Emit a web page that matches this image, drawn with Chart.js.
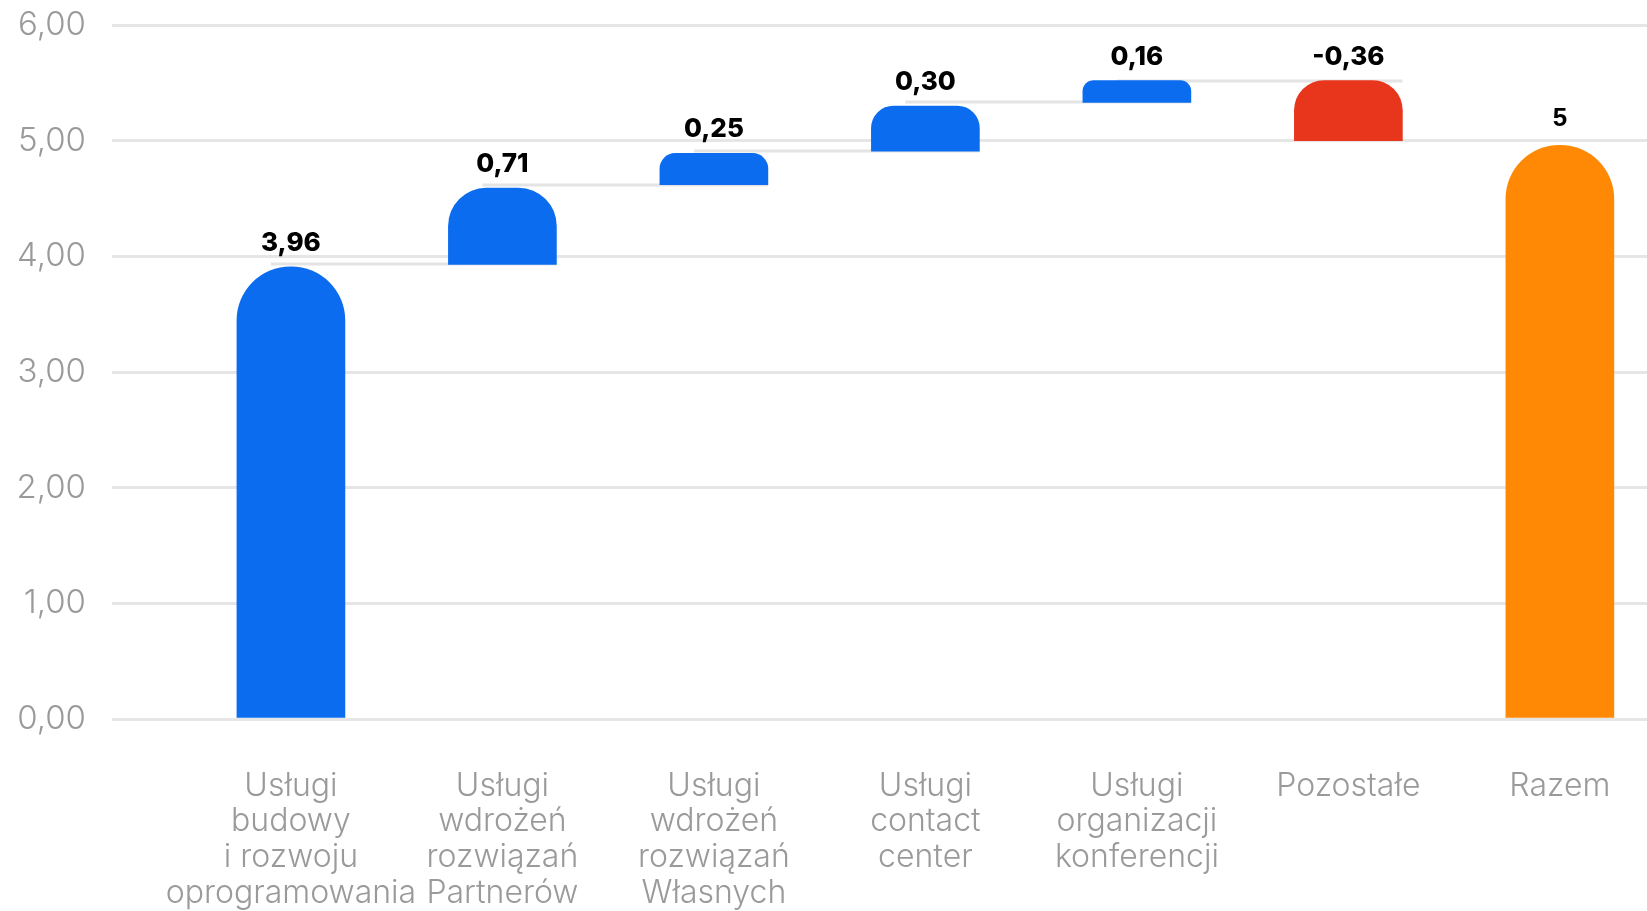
<!DOCTYPE html>
<html>
<head>
<meta charset="utf-8">
<script src="https://cdn.jsdelivr.net/npm/chart.js@4"></script>
<style>
  html, body { margin: 0; padding: 0; background: #fff; }
  #wrap { width: 1647px; height: 911px; }
</style>
</head>
<body>
<div id="wrap"><canvas id="chart"></canvas></div>
<script>
// categories (multi-line labels)
const categories = [
  ['Usługi', 'budowy', 'i rozwoju', 'oprogramowania'],
  ['Usługi', 'wdrożeń', 'rozwiązań', 'Partnerów'],
  ['Usługi', 'wdrożeń', 'rozwiązań', 'Własnych'],
  ['Usługi', 'contact', 'center'],
  ['Usługi', 'organizacji', 'konferencji'],
  ['Pozostałe'],
  ['Razem']
];
// printed values above the bars
const values = [3.96, 0.71, 0.25, 0.30, 0.16, -0.36, 5];
// bar extents as drawn in the picture
const barLow = [0, 3.93, 4.62, 4.91, 5.33, 5.00, 0];
const barHigh = [3.91, 4.59, 4.89, 5.30, 5.52, 5.52, 4.96];
const yTicks = [0, 1, 2, 3, 4, 5, 6];

const BLUE = '#0b6cf0';
const RED = '#e8361c';
const ORANGE = '#ff8804';
const GRID = '#e6e6e6';
const LABEL = '#9a9a9a';

function fmt(v) {
    if (Number.isInteger(v)) return String(v);
    return v.toFixed(2).replace('.', ',');
}

// gray step lines between bars
const connectors = {
    id: 'connectors',
    beforeDatasetsDraw(chart) {
        const meta = chart.getDatasetMeta(0);
        const y = chart.scales.y;
        const ctx = chart.ctx;
        ctx.save();
        ctx.strokeStyle = '#e4e4e4';
        ctx.lineWidth = 3;
        for (let i = 1; i < values.length - 1; i++) {
            const level = values[i] >= 0 ? barLow[i] : barHigh[i];
            const prev = meta.data[i - 1];
            const cur = meta.data[i];
            const py = Math.round(y.getPixelForValue(level));
            ctx.beginPath();
            ctx.moveTo(prev.x - 20, py);
            ctx.lineTo(cur.x + cur.width / 2, py);
            ctx.stroke();
        }
        ctx.restore();
    }
};

// value labels above bars
const valueLabels = {
    id: 'valueLabels',
    afterDatasetsDraw(chart) {
        const meta = chart.getDatasetMeta(0);
        const ctx = chart.ctx;
        ctx.save();
        ctx.fillStyle = '#000';
        ctx.textAlign = 'center';
        ctx.textBaseline = 'alphabetic';
        meta.data.forEach((bar, i) => {
            const last = i === values.length - 1;
            ctx.font = last ? 'bold 26px "Liberation Sans"' : '800 26px Inter';
            ctx.fillText(fmt(values[i]), bar.x, bar.y - (last ? 19 : 16));
        });
        ctx.restore();
    }
};

const colors = values.map((v, i) => i === values.length - 1 ? ORANGE : (v < 0 ? RED : BLUE));

new Chart(document.getElementById('chart'), {
    type: 'bar',
    data: {
        datasets: [{
            data: categories.map((c, i) => ({ x: i, y: [barLow[i], barHigh[i]] })),
            backgroundColor: colors,
            borderWidth: 0,
            borderSkipped: false,
            borderRadius: { topLeft: 54, topRight: 54, bottomLeft: 0, bottomRight: 0 },
            barThickness: 108
        }]
    },
    options: {
        responsive: true,
        maintainAspectRatio: false,
        animation: false,
        layout: { padding: { left: 14, right: 0, top: 25, bottom: 0 } },
        plugins: {
            legend: { display: false },
            tooltip: { enabled: false }
        },
        scales: {
            x: {
                type: 'linear',
                offset: false,
                min: -0.846,
                max: 6.412,
                afterBuildTicks: s => { s.ticks = categories.map((c, i) => ({ value: i })); },
                afterFit: s => {
                    s.height = 192;
                    s.paddingLeft = 0;
                    s.paddingRight = 0;
                },
                grid: { display: false, drawTicks: false },
                border: { display: false },
                ticks: {
                    autoSkip: false,
                    maxRotation: 0,
                    padding: 49,
                    color: LABEL,
                    font: { family: 'Inter', weight: 300, size: 32, lineHeight: 1.12 },
                    callback: v => categories[v]
                }
            },
            y: {
                min: 0,
                max: 6,
                afterBuildTicks: s => { s.ticks = yTicks.map(v => ({ value: v })); },
                afterFit: s => {
                    s.width = 98;
                    s.paddingTop = 0;
                    s.paddingBottom = 0;
                },
                grid: { color: GRID, lineWidth: 3, drawTicks: false },
                border: { display: false },
                ticks: {
                    padding: 26,
                    color: LABEL,
                    font: { family: 'Inter', weight: 300, size: 33 },
                    callback: v => v.toFixed(2).replace('.', ',')
                }
            }
        }
    },
    plugins: [connectors, valueLabels]
});
</script>
</body>
</html>
